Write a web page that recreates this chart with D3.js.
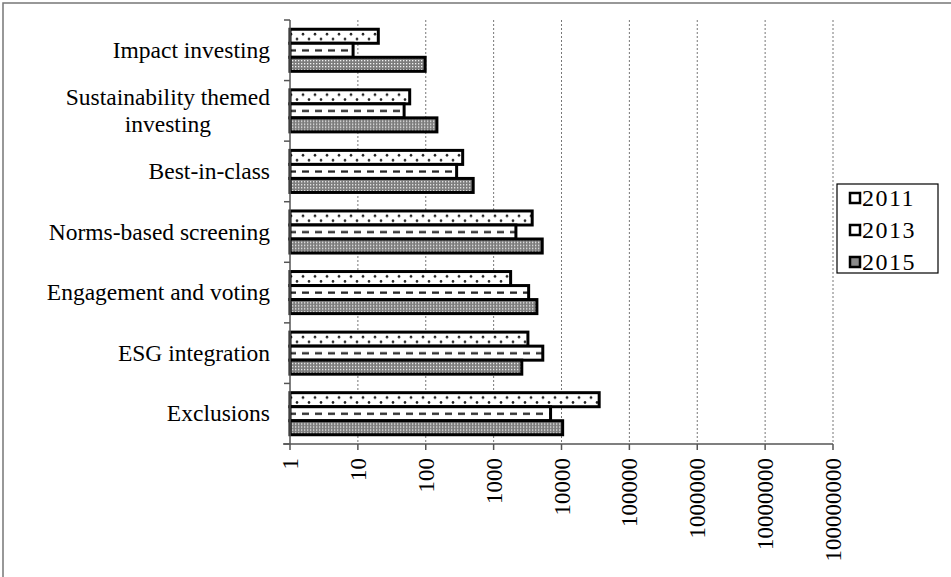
<!DOCTYPE html>
<html>
<head>
<meta charset="utf-8">
<script src="https://cdn.jsdelivr.net/npm/d3@7"></script>
<style>
  body { margin: 0; background: #fff; }
  svg { display: block; }
  text { font-family: "Liberation Serif", "Times New Roman", serif; }
</style>
</head>
<body>
<script>
// data (top to bottom as drawn)
const categories = ['Impact investing', 'Sustainability themed investing', 'Best-in-class',
  'Norms-based screening', 'Engagement and voting', 'ESG integration', 'Exclusions'];
const years = ['2011', '2013', '2015'];
const values2011 = [20, 58, 350, 3700, 1780, 3200, 35900];
const values2013 = [8.5, 48, 285, 2130, 3280, 5300, 6900];
const values2015 = [98, 146, 500, 5200, 4340, 2600, 10400];
const tickValues = [1, 10, 100, 1000, 10000, 100000, 1000000, 10000000, 100000000];

const seriesByYear = { '2011': values2011, '2013': values2013, '2015': values2015 };

const W = 951, H = 577;
const svg = d3.select(document.body).append('svg').attr('width', W).attr('height', H);

const x = d3.scaleLog().domain([1, 1e8]).range([290, 833]);
const y = d3.scaleBand().domain(categories).range([20, 444]);
const y1 = d3.scaleBand().domain(years).range([0, y.bandwidth()]).paddingOuter(0.66);
const bh = y1.bandwidth();

// patterns
const defs = svg.append('defs');
const pDots = defs.append('pattern').attr('id', 'p2011').attr('patternUnits', 'userSpaceOnUse')
  .attr('width', 12).attr('height', bh).attr('y', y1('2011'));
pDots.append('rect').attr('width', 12).attr('height', bh).attr('fill', '#fff');
pDots.append('circle').attr('cx', 3).attr('cy', bh * 0.35).attr('r', 1.3).attr('fill', '#222');
pDots.append('circle').attr('cx', 9).attr('cy', bh * 0.7).attr('r', 1.3).attr('fill', '#222');

const pDash = defs.append('pattern').attr('id', 'p2013').attr('patternUnits', 'userSpaceOnUse')
  .attr('width', 13).attr('height', bh).attr('y', y1('2013'));
pDash.append('rect').attr('width', 13).attr('height', bh).attr('fill', '#fff');
pDash.append('rect').attr('x', 3).attr('y', bh / 2 - 1).attr('width', 7).attr('height', 2.2).attr('fill', '#222');

const pChk = defs.append('pattern').attr('id', 'p2015').attr('patternUnits', 'userSpaceOnUse')
  .attr('width', 3).attr('height', 3);
pChk.append('rect').attr('width', 3).attr('height', 3).attr('fill', '#7c7c7c');
pChk.append('rect').attr('x', 1).attr('y', 1).attr('width', 1.3).attr('height', 1.3).attr('fill', '#f2f2f2');

const fills = { '2011': 'url(#p2011)', '2013': 'url(#p2013)', '2015': 'url(#p2015)' };

// outer frame
svg.append('rect').attr('x', 3).attr('y', 3).attr('width', W + 20).attr('height', H + 20)
  .attr('fill', 'none').attr('stroke', '#777').attr('stroke-width', 1.5);

// gridlines
svg.append('g').selectAll('line').data(tickValues.slice(1)).join('line')
  .attr('x1', d => x(d)).attr('x2', d => x(d)).attr('y1', 20).attr('y2', 444)
  .attr('stroke', '#777').attr('stroke-dasharray', '2,2').attr('stroke-width', 1);

// bars
const groups = svg.append('g').selectAll('g').data(categories).join('g')
  .attr('transform', d => `translate(0,${y(d)})`);
groups.selectAll('rect')
  .data((c, i) => years.map(yr => ({ yr, v: seriesByYear[yr][i] })))
  .join('rect')
  .attr('x', x(1))
  .attr('y', d => y1(d.yr))
  .attr('width', d => x(d.v) - x(1))
  .attr('height', bh)
  .attr('fill', d => fills[d.yr])
  .attr('stroke', '#000').attr('stroke-width', 3);

// y axis
svg.append('line').attr('x1', 290).attr('x2', 290).attr('y1', 20).attr('y2', 444)
  .attr('stroke', '#555').attr('stroke-width', 1.5);
const bounds = categories.map(c => y(c)).concat([444]);
svg.append('g').selectAll('line').data(bounds).join('line')
  .attr('x1', 284).attr('x2', 290).attr('y1', d => d).attr('y2', d => d)
  .attr('stroke', '#555').attr('stroke-width', 1.5);

// x axis
svg.append('line').attr('x1', 283).attr('x2', 833).attr('y1', 444).attr('y2', 444)
  .attr('stroke', '#555').attr('stroke-width', 1.5);
const xt = svg.append('g').selectAll('g').data(tickValues).join('g');
xt.append('line').attr('x1', d => x(d)).attr('x2', d => x(d)).attr('y1', 444).attr('y2', 450)
  .attr('stroke', '#555').attr('stroke-width', 1.5);
xt.append('text')
  .attr('transform', d => `translate(${x(d)},458) rotate(-90)`)
  .attr('dy', '0.35em').attr('text-anchor', 'end')
  .attr('font-size', 23).attr('fill', '#000')
  .text(d => String(d));

// category labels (wrap long ones, centred block, right-aligned at 270)
const labelSize = 23.5;
categories.forEach(c => {
  const words = c.split(' ');
  const lines = [];
  let cur = '';
  const probe = svg.append('text').attr('font-size', labelSize);
  words.forEach(w => {
    const t = cur ? cur + ' ' + w : w;
    probe.text(t);
    if (probe.node().getComputedTextLength() > 235 && cur) { lines.push(cur); cur = w; }
    else cur = t;
  });
  lines.push(cur);
  const widths = lines.map(l => { probe.text(l); return probe.node().getComputedTextLength(); });
  probe.remove();
  const maxW = d3.max(widths);
  const cx = 270 - maxW / 2;
  const lh = 27;
  const cy = y(c) + y.bandwidth() / 2 - (lines.length - 1) * lh / 2;
  const t = svg.append('text').attr('font-size', labelSize).attr('text-anchor', 'middle').attr('fill', '#000');
  lines.forEach((l, i) => {
    t.append('tspan').attr('x', cx).attr('y', cy + i * lh).attr('dy', '0.32em').text(l);
  });
});

// legend
svg.append('rect').attr('x', 837).attr('y', 184).attr('width', 101).attr('height', 89)
  .attr('fill', '#fff').attr('stroke', '#000').attr('stroke-width', 1.2);
const lg = svg.append('g').selectAll('g').data(years).join('g')
  .attr('transform', (d, i) => `translate(850,${198 + i * 32})`);
lg.append('rect').attr('x', 0).attr('y', -5).attr('width', 10).attr('height', 10)
  .attr('fill', d => d === '2015' ? '#8a8a8a' : '#fff').attr('stroke', '#000').attr('stroke-width', 2.5);
lg.append('text').attr('x', 12).attr('dy', '0.35em').attr('font-size', 24)
  .attr('letter-spacing', 1.5).attr('fill', '#000').text(d => d);
</script>
</body>
</html>
